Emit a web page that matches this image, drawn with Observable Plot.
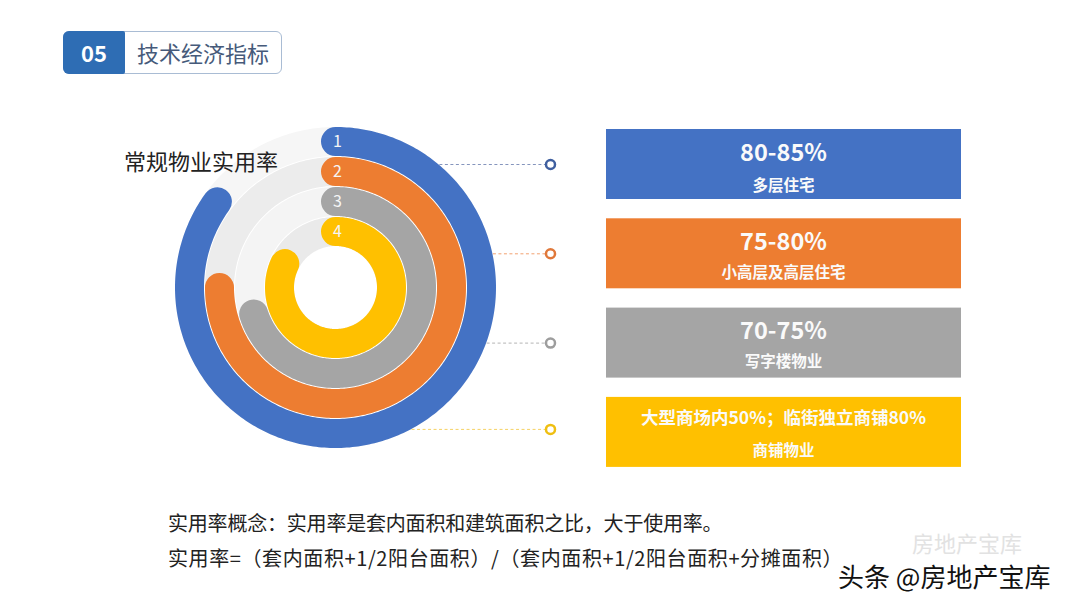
<!DOCTYPE html>
<html><head><meta charset="utf-8">
<script src="https://cdn.jsdelivr.net/npm/d3@7"></script>
<script src="https://cdn.jsdelivr.net/npm/@observablehq/plot@0.6"></script>
<style>
html,body{margin:0;padding:0;background:#fff;}
#page{position:relative;width:1080px;height:608px;overflow:hidden;font-family:"Noto Sans CJK SC","Microsoft YaHei",sans-serif;background:#fff;}
#chart{position:absolute;left:0;top:0;}
.hdr{position:absolute;left:63px;top:31px;width:219px;height:43px;border:1.5px solid #a9bcd4;border-radius:6px;box-sizing:border-box;}
.hdr-num{position:absolute;left:63px;top:31px;width:62px;height:43px;background:#2e6db4;border-radius:6px 2px 2px 6px;color:#fff;font-weight:bold;font-size:22px;line-height:43px;text-align:center;}
.hdr-txt{position:absolute;left:137px;top:31px;height:43px;line-height:42px;font-size:22px;color:#465a7a;white-space:nowrap;}
.title{position:absolute;left:124px;top:146px;font-size:22px;line-height:28px;color:#222;white-space:nowrap;}
.foot{position:absolute;left:168px;font-size:20px;line-height:26px;color:#222;white-space:nowrap;}
.wm-faint{position:absolute;left:912px;top:530px;font-size:22px;line-height:24px;color:#e2e2e2;white-space:nowrap;}
.wm{position:absolute;left:838px;top:562px;font-size:26px;line-height:28px;color:#111;white-space:nowrap;text-shadow:1px 1px 0 #fff,-1px -1px 0 #fff,1px -1px 0 #fff,-1px 1px 0 #fff;}
</style>
</head><body>
<div id="page">
  <div id="chart"></div>
  <div class="hdr"></div>
  <div class="hdr-num">05</div>
  <div class="hdr-txt">技术经济指标</div>
  <div class="title">常规物业实用率</div>
  <div class="foot" style="top:510px;letter-spacing:-0.2px">实用率概念：实用率是套内面积和建筑面积之比，大于使用率。</div>
  <div class="foot" style="top:545px;letter-spacing:0.6px">实用率=（套内面积+1/2阳台面积）/（套内面积+1/2阳台面积+分摊面积）</div>
  <div class="wm-faint">房地产宝库</div>
  <div class="wm">头条 @房地产宝库</div>
</div>
<script>
// ---- data ----
const rings = ["1", "2", "3", "4"];
const ringValues = [85, 75, 70, 82];               // % of full circle
const ringColors = ["#4472c4", "#ed7d31", "#a5a5a5", "#ffc000"];
const trackColors = ["#f6f6f6", "#ececec", "#f4f4f4", "#eaeaea"];
const boxValues = ["80-85%", "75-80%", "70-75%", "大型商场内50%；临街独立商铺80%"];
const boxLabels = ["多层住宅", "小高层及高层住宅", "写字楼物业", "商铺物业"];
const leaderColors = ["#8595bd", "#f2a271", "#b4b4b4", "#f5d264"];
const dotColors = ["#3f5f9f", "#e0783a", "#9d9d9d", "#efbf12"];

// ---- layout ----
const W = 1080, H = 608, CX = 335, CY = 287;
const ringMid = i => 146 - 30 * i;
const ringWidth = 29;
const outerR = 161;
const boxTop = i => 129 + i * 89.3;
const boxH = 70;
const leaderY = i => CY - (boxTop(i) + boxH / 2 - (i === 3 ? 3 : 0));

function arcPoints(r, pct) {
  const n = Math.max(2, Math.round(pct * 3.6));
  return d3.range(n + 1).map(k => {
    const a = (k / n) * (pct / 100) * 2 * Math.PI;
    return {x: r * Math.sin(a), y: r * Math.cos(a)};
  });
}

const marks = [];
// tracks
rings.forEach((_, i) => {
  marks.push(Plot.line(arcPoints(ringMid(i), 100), {
    x: "x", y: "y", stroke: trackColors[i], strokeWidth: ringWidth, strokeLinecap: "round", curve: "linear"
  }));
});
// value arcs
rings.forEach((_, i) => {
  marks.push(Plot.line(arcPoints(ringMid(i), ringValues[i]), {
    x: "x", y: "y", stroke: ringColors[i], strokeWidth: ringWidth, strokeLinecap: "round", curve: "linear"
  }));
});
// ring labels
marks.push(Plot.text(rings, {
  x: () => 0, y: (d, i) => ringMid(i), text: d => d, dx: 2,
  fill: "#f5f5f5", fontSize: 16
}));

const boxes = boxValues.map((v, i) => ({i, value: v, label: boxLabels[i]}));
// leader lines
marks.push(Plot.link(boxes, {
  x1: d => { const yy = leaderY(d.i); return Math.sqrt(outerR * outerR - yy * yy); },
  x2: () => 545 - CX,
  y1: d => leaderY(d.i),
  y2: d => leaderY(d.i),
  stroke: d => leaderColors[d.i], strokeWidth: 1, strokeDasharray: "3,2.5"
}));
marks.push(Plot.dot(boxes, {
  x: () => 550 - CX,
  y: d => leaderY(d.i),
  r: 4.5, stroke: d => dotColors[d.i], strokeWidth: 2.5, fill: "white"
}));
// boxes
marks.push(Plot.rect(boxes, {
  x1: () => 606 - CX, x2: () => 961 - CX,
  y1: d => CY - boxTop(d.i), y2: d => CY - boxTop(d.i) - boxH,
  fill: d => ringColors[d.i]
}));
marks.push(Plot.text(boxes.filter(d => d.i < 3), {
  x: () => 783 - CX, y: d => CY - (boxTop(d.i) + 23.5), text: "value",
  fill: "#fafafa", fontSize: 23.5, fontWeight: "bold"
}));
marks.push(Plot.text(boxes.filter(d => d.i === 3), {
  x: () => 783 - CX, y: d => CY - (boxTop(d.i) + 21), text: "value",
  fill: "#fafafa", fontSize: 17.5, fontWeight: "bold"
}));
marks.push(Plot.text(boxes, {
  x: () => 783 - CX, y: d => CY - (boxTop(d.i) + (d.i === 0 ? 57 : 54)), text: "label",
  fill: "#fafafa", fontSize: 15.5, fontWeight: "bold"
}));

const chart = Plot.plot({
  width: W, height: H, margin: 0,
  x: {domain: [-CX, W - CX], axis: null},
  y: {domain: [CY - H, CY], axis: null},
  color: {type: "identity"},
  style: {fontFamily: "'Noto Sans CJK SC', 'Microsoft YaHei', sans-serif", background: "transparent", overflow: "visible"},
  marks
});
document.getElementById("chart").appendChild(chart);
</script>
</body></html>
